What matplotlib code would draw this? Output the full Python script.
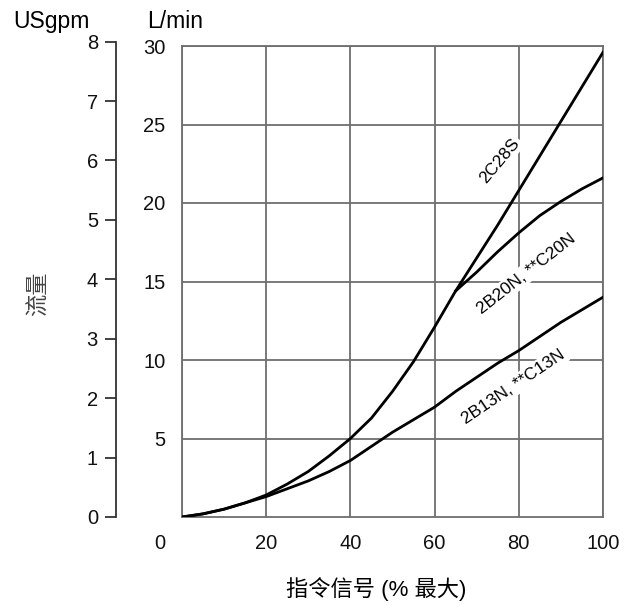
import numpy as np
import matplotlib
matplotlib.use('Agg')
import matplotlib.pyplot as plt
from matplotlib import transforms

plt.rcParams['font.family'] = ['Liberation Sans', 'Noto Sans CJK SC', 'DejaVu Sans']

# command signal (% max)
signal = [0, 5, 10, 15, 20, 25, 30, 35, 40, 45, 50, 55, 60, 65, 70, 75, 80, 85, 90, 95, 100]
# flow, L/min
flow_2c28s = [0, 0.2, 0.5, 0.9, 1.4, 2.1, 2.9, 3.9, 5.0, 6.3, 8.0, 9.9, 12.1, 14.4,
              16.5, 18.6, 20.8, 23.0, 25.2, 27.4, 29.6]
signal_20n = [65, 70, 75, 80, 85, 90, 95, 100]
flow_2b20n = [14.4, 15.6, 16.9, 18.1, 19.2, 20.1, 20.9, 21.6]
flow_2b13n = [0, 0.2, 0.5, 0.9, 1.3, 1.8, 2.3, 2.9, 3.6, 4.5, 5.4, 6.2, 7.0, 8.0,
              8.9, 9.8, 10.6, 11.5, 12.4, 13.2, 14.0]

x_ticks = [0, 20, 40, 60, 80, 100]
lpm_ticks = [5, 10, 15, 20, 25, 30]
gpm_ticks = [0, 1, 2, 3, 4, 5, 6, 7, 8]
GPM = 3.785

grid_c = '#6e6e6e'
W, H = 627, 605
fig = plt.figure(figsize=(W / 100, H / 100), dpi=100)

left, right, top, bottom = 182, 603, 46, 517
ax = fig.add_axes([left / W, 1 - bottom / H, (right - left) / W, (bottom - top) / H])
ax.set_xlim(0, 100)
ax.set_ylim(0, 30)
for s in ax.spines.values():
    s.set_color(grid_c)
    s.set_linewidth(1.3)
ax.set_xticks(x_ticks)
ax.set_yticks(lpm_ticks)
ax.tick_params(length=0, labelsize=14.5, colors='#111111')
ax.tick_params(axis='x', pad=12)
ax.tick_params(axis='y', pad=12)
ax.grid(True, color=grid_c, lw=1.3)
ax.set_axisbelow(True)

# move the "0" label to the left of the corner
fig.canvas.draw()
lbl = ax.get_xticklabels()[0]
lbl.set_transform(lbl.get_transform() + transforms.ScaledTranslation(-0.22, 0, fig.dpi_scale_trans))

ax.plot(signal, flow_2c28s, color='black', lw=2, zorder=4)
ax.plot(signal_20n, flow_2b20n, color='black', lw=2, zorder=4)
ax.plot(signal, flow_2b13n, color='black', lw=2, zorder=4)

box = dict(fc='white', ec='none', pad=1.5)
ax.text(75.5, 22.7, '2C28S', rotation=50, ha='center', va='center', fontsize=12.5,
        bbox=box, zorder=3)
ax.text(81.7, 15.5, '2B20N, **C20N', rotation=38, ha='center', va='center', fontsize=12.5,
        bbox=box, zorder=3)
ax.text(78.7, 8.3, '2B13N, **C13N', rotation=34, ha='center', va='center', fontsize=12.5,
        bbox=box, zorder=3)

# USgpm axis
gpm_left = 116
gpm_h = (bottom - top) * (8 * GPM / 30)
axg = fig.add_axes([gpm_left / W, 1 - bottom / H, 0.001, gpm_h / H])
axg.set_ylim(0, 8)
axg.set_yticks(gpm_ticks)
axg.set_xticks([])
for k in ['top', 'right', 'bottom']:
    axg.spines[k].set_visible(False)
axg.spines['left'].set_color('#333333')
axg.spines['left'].set_linewidth(1.3)
axg.tick_params(axis='y', length=8, width=1.3, color='#333333', labelsize=14.5,
                labelcolor='#111111', pad=5)
axg.patch.set_visible(False)

fig.text(13 / W, 1 - 28 / H, 'USgpm', fontsize=16.5, va='baseline', ha='left')
fig.text(147 / W, 1 - 28 / H, 'L/min', fontsize=16.5, va='baseline', ha='left')
fig.text(39 / W, 1 - 294 / H, '流量', fontsize=16, rotation=90, va='center', ha='center',
         color='#444444')
fig.text(376 / W, 1 - 589 / H, '指令信号 (% 最大)', fontsize=16, va='center', ha='center')

fig.savefig('out.png', dpi=100)
